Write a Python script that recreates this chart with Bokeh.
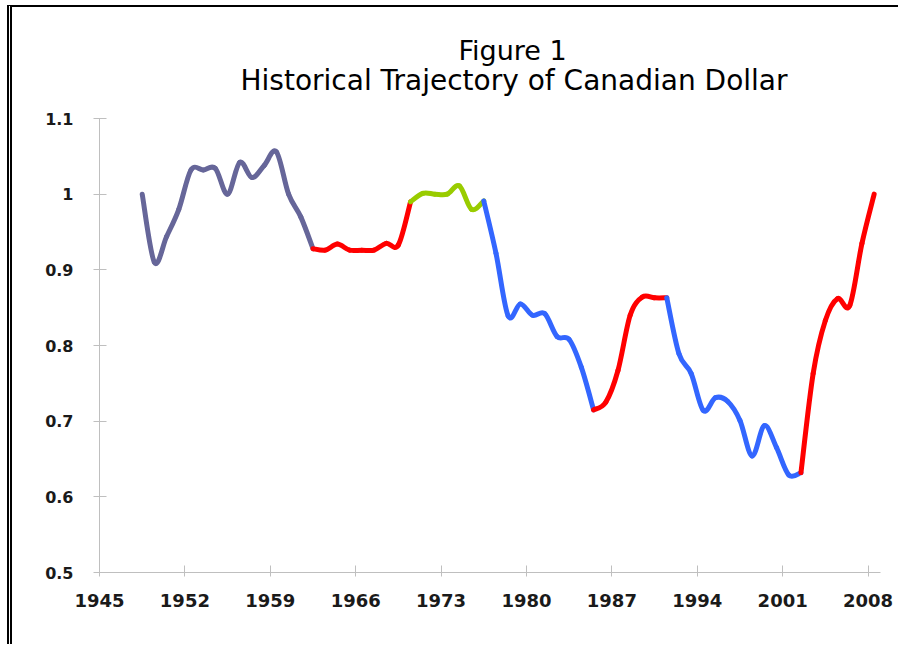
import numpy as np
from bokeh.plotting import figure
from bokeh.models import FixedTicker, Title, Range1d, ColumnDataSource
from bokeh.embed import file_html
from bokeh.resources import INLINE

# ---- data (annual values, plotted at mid-year) ----
years = list(range(1948, 2009))
cad_usd = [1.000, 0.910, 0.944, 0.980, 1.032, 1.032, 1.034, 1.000, 1.042, 1.022,
           1.038, 1.056, 1.000, 0.970, 0.928, 0.926, 0.934, 0.926, 0.926, 0.926,
           0.935, 0.933, 0.990, 1.001, 1.000, 1.000, 1.011, 0.980, 0.991, 0.922,
           0.839, 0.855, 0.840, 0.842, 0.812, 0.808, 0.771, 0.715, 0.725, 0.767,
           0.840, 0.864, 0.863, 0.863, 0.789, 0.763, 0.714, 0.731, 0.726, 0.701,
           0.654, 0.694, 0.665, 0.629, 0.632, 0.763, 0.833, 0.862, 0.853, 0.935, 1.000]

# each regime is drawn as its own smoothed series
regime_bounds = [1948, 1962, 1970, 1976, 1985, 1991, 2002, 2008]
regime_colors = ["#666699", "#FF0000", "#99CC00", "#3366FF", "#FF0000", "#3366FF", "#FF0000"]

x_ticks = [1945, 1952, 1959, 1966, 1973, 1980, 1987, 1994, 2001, 2008]
y_ticks = [0.5, 0.6, 0.7, 0.8, 0.9, 1.0, 1.1]
y_tick_labels = ["0.5", "0.6", "0.7", "0.8", "0.9", "1", "1.1"]

title_line1 = "Figure 1"
title_line2 = "Historical Trajectory of Canadian Dollar"

# ---- smoothed segments (Excel-like), tangents computed within each regime ----
xs_all = np.array(years, dtype=float) + 0.5
ys_all = np.array(cad_usd, dtype=float)
seg = dict(x0=[], y0=[], x1=[], y1=[], cx0=[], cy0=[], cx1=[], cy1=[], color=[])
for k, col in enumerate(regime_colors):
    i0 = years.index(regime_bounds[k])
    i1 = years.index(regime_bounds[k + 1])
    xs = xs_all[i0:i1 + 1]
    ys = ys_all[i0:i1 + 1]
    n = len(xs)
    for i in range(n - 1):
        a = max(i - 1, 0)
        d = min(i + 2, n - 1)
        seg["x0"].append(xs[i]); seg["y0"].append(ys[i])
        seg["x1"].append(xs[i + 1]); seg["y1"].append(ys[i + 1])
        seg["cx0"].append(xs[i] + (xs[i + 1] - xs[a]) / 6.0)
        seg["cy0"].append(ys[i] + (ys[i + 1] - ys[a]) / 6.0)
        seg["cx1"].append(xs[i + 1] - (xs[d] - xs[i]) / 6.0)
        seg["cy1"].append(ys[i + 1] - (ys[d] - ys[i]) / 6.0)
        seg["color"].append(col)
src = ColumnDataSource(seg)

p = figure(frame_width=781, frame_height=454,
           x_range=Range1d(1945, 2009.02), y_range=Range1d(0.5, 1.1),
           output_backend="svg", toolbar_location=None,
           min_border_left=87, min_border_right=18,
           min_border_top=111, min_border_bottom=72)
p.styles = {"margin-left": "7px", "margin-top": "5px",
            "border-top": "2px solid #000000", "border-left": "5px double #000000"}
p.outline_line_color = None
p.xgrid.visible = False
p.ygrid.visible = False
p.background_fill_color = "white"
p.border_fill_color = "white"

p.bezier(x0="x0", y0="y0", x1="x1", y1="y1", cx0="cx0", cy0="cy0", cx1="cx1", cy1="cy1",
         line_color="color", line_width=5, line_cap="round", source=src)

axis_gray = "#BFBFBF"
for ax in (p.xaxis[0], p.yaxis[0]):
    ax.axis_line_color = axis_gray
    ax.major_tick_line_color = axis_gray
    ax.minor_tick_line_color = None
    ax.major_label_text_font = "DejaVu Sans"
    ax.major_label_text_font_style = "bold"
    ax.major_label_text_color = "#1a1a1a"

p.xaxis.ticker = FixedTicker(ticks=x_ticks)
p.xaxis.major_tick_in = 7
p.xaxis.major_tick_out = 4
p.xaxis.major_label_standoff = 17
p.xaxis.major_label_text_font_size = "18px"

p.yaxis.ticker = FixedTicker(ticks=y_ticks)
p.yaxis.major_label_overrides = {t: s for t, s in zip(y_ticks, y_tick_labels)}
p.yaxis.major_tick_in = 7
p.yaxis.major_tick_out = 6
p.yaxis.major_label_standoff = 20
p.yaxis.major_label_text_font_size = "16px"

# subtitle first (closest to the plot), then the main title line above it
p.add_layout(Title(text=title_line2, align="left", offset=141, standoff=43,
                   text_font="DejaVu Sans", text_font_size="28px",
                   text_font_style="normal", text_color="#000000"), "above")
p.add_layout(Title(text=title_line1, align="left", offset=359, standoff=-51,
                   text_font="DejaVu Sans", text_font_size="27px",
                   text_font_style="normal", text_color="#000000"), "above")

open("out.html", "w").write(file_html(p, INLINE))
